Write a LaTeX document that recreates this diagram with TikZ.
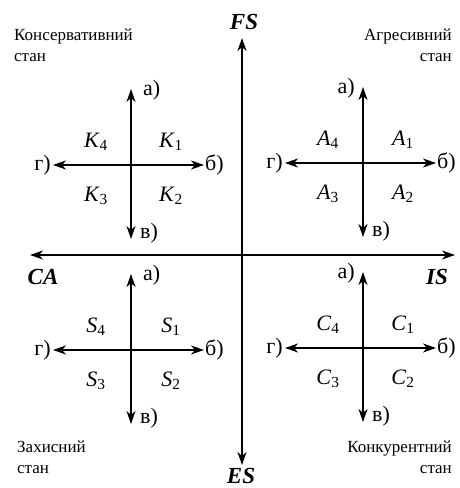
\documentclass[tikz,border=0pt]{standalone}
\usepackage{fontspec}
\setmainfont{Liberation Serif}
\usetikzlibrary{arrows.meta}

\newcommand{\qsub}[2]{\textit{#1}\textsubscript{#2}}

\begin{document}
\begin{tikzpicture}[x=1pt,y=-1pt]
  \tikzset{
    arr/.style={line width=1.8pt, >={Stealth[length=13pt,width=9pt,inset=4pt]}, <->},
    lbl/.style={inner sep=0pt, font=\fontsize{22}{25}\selectfont},
    axlbl/.style={inner sep=0pt, font=\fontsize{23}{26}\selectfont\bfseries\itshape},
    state/.style={inner sep=0pt, font=\fontsize{17}{21}\selectfont},
  }
  \useasboundingbox (0,0) rectangle (459,488);
  % main axes
  \coordinate (top) at (242,38);
  \coordinate (bot) at (242,465);
  \coordinate (lft) at (30,255);
  \coordinate (rgt) at (455,255);
  \draw[arr] (bot) -- (top);
  \draw[arr] (lft) -- (rgt);
  \node[axlbl] (fs) at (244,22) {FS};
  \node[axlbl] (es) at (241,476) {ES};
  \node[axlbl] (ca) at (43,277) {CA};
  \node[axlbl] (is) at (437,277) {IS};
  % the four small crosses
  \foreach \cx/\cy/\L/\nm/\aa/\ax in {131/165/K/k/west/12, 363/163/A/a/east/-8,
                                      131/350/S/s/west/12, 363/348/C/c/east/-8} {
    \coordinate (\nm-c) at (\cx,\cy);
    \coordinate (\nm-n) at (\cx,\cy-76);
    \coordinate (\nm-s) at (\cx,\cy+74);
    \coordinate (\nm-w) at (\cx-78,\cy);
    \coordinate (\nm-e) at (\cx+73,\cy);
    \draw[arr] (\nm-s) -- (\nm-n);
    \draw[arr] (\nm-w) -- (\nm-e);
    \node[lbl, anchor=\aa] (\nm-a) at (\cx+\ax,\cy-75) {а)};
    \node[lbl, anchor=west] (\nm-b) at (\cx+74,\cy) {б)};
    \node[lbl, anchor=west] (\nm-v) at (\cx+9,\cy+68) {в)};
    \node[lbl, anchor=east] (\nm-g) at (\cx-80,\cy) {г)};
    \node[lbl] (\nm-1) at (\cx+40,\cy-23) {\qsub{\L}{1}};
    \node[lbl] (\nm-2) at (\cx+40,\cy+31) {\qsub{\L}{2}};
    \node[lbl] (\nm-3) at (\cx-35,\cy+31) {\qsub{\L}{3}};
    \node[lbl] (\nm-4) at (\cx-35,\cy-23) {\qsub{\L}{4}};
  }
  % state names in the corners
  \node[state, align=left, anchor=north west] (kst) at (14,29) {Консервативний\\стан};
  \node[state, align=right, anchor=north east] (ast) at (452,29) {Агресивний\\стан};
  \node[state, align=left, anchor=north west] (sst) at (17,441) {Захисний\\стан};
  \node[state, align=right, anchor=north east] (cst) at (452,441) {Конкурентний\\стан};
\end{tikzpicture}
\end{document}
